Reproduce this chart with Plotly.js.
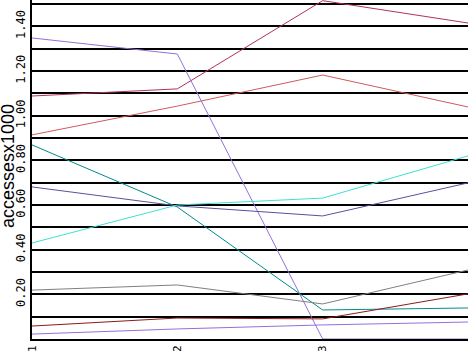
<!DOCTYPE html>
<html>
<head>
<meta charset="utf-8">
<script src="https://cdn.plot.ly/plotly-3.0.1.min.js"></script>
<style>html,body{margin:0;padding:0;background:#fff;}#chart{width:468px;height:351px;}</style>
</head>
<body>
<div id="chart"></div>
<script>
var xCats = [1, 2, 3, 4];
var xTickLabels = ['1', '2', '3'];
var yTickVals = [0.2, 0.4, 0.6, 0.8, 1.0, 1.2, 1.4];
var yTickText = ['0.20', '0.40', '0.60', '0.80', '1.00', '1.20', '1.40'];
var yTitle = 'accessesx1000';

var crimsonSeries = [1.088, 1.12, 1.515, 1.415];
var lightRedSeries = [0.914, 1.043, 1.182, 1.039];
var purpleTopSeries = [1.348, 1.276, 0.0, 0.0];
var tealSeries = [0.869, 0.591, 0.130, 0.139];
var slateSeries = [0.681, 0.596, 0.551, 0.699];
var turquoiseSeries = [0.430, 0.600, 0.631, 0.820];
var graySeries = [0.219, 0.242, 0.157, 0.309];
var darkRedSeries = [0.058, 0.094, 0.090, 0.202];
var purpleLowSeries = [0.022, 0.045, 0.063, 0.076];

var seriesList = [
  [crimsonSeries, '#b03060'],
  [lightRedSeries, '#d05a5a'],
  [purpleTopSeries, '#9370db'],
  [tealSeries, '#008b8b'],
  [slateSeries, '#5c4e9c'],
  [turquoiseSeries, '#40e0d0'],
  [graySeries, '#808080'],
  [darkRedSeries, '#8b1a1a'],
  [purpleLowSeries, '#9370db']
];

var traces = seriesList.map(function (s) {
  return {
    x: xCats, y: s[0], type: 'scatter', mode: 'lines',
    line: {color: s[1], width: 1}, hoverinfo: 'none', showlegend: false, cliponaxis: true
  };
});

var layout = {
  width: 468, height: 351,
  margin: {l: 32, r: 0, t: 0, b: 12, pad: 0},
  paper_bgcolor: '#ffffff', plot_bgcolor: '#ffffff',
  showlegend: false,
  font: {family: 'DejaVu Sans Mono, monospace', size: 11, color: '#000'},
  xaxis: {
    range: [1, 4], tickmode: 'array', tickvals: [1, 2, 3], ticktext: xTickLabels,
    tickangle: -90, showgrid: false, zeroline: false, showline: true,
    linecolor: '#000', linewidth: 2, ticks: '', ticklen: 0,
    tickfont: {family: 'DejaVu Sans Mono, monospace', size: 11, color: '#000'},
    automargin: false, fixedrange: true
  },
  yaxis: {
    range: [0, 1.518], tickmode: 'array', tickvals: yTickVals, ticktext: yTickText,
    tickangle: -90, showgrid: true, gridcolor: '#000', gridwidth: 2,
    minor: {dtick: 0.1, tick0: 0, showgrid: true, gridcolor: '#000', gridwidth: 2, ticks: ''},
    zeroline: false, showline: true, linecolor: '#000', linewidth: 2, ticks: '',
    tickfont: {family: 'DejaVu Sans Mono, monospace', size: 12, color: '#000'},
    automargin: false, fixedrange: true
  },
  annotations: [{
    text: yTitle, xref: 'paper', yref: 'paper', x: -24 / 436, y: 0.51,
    xanchor: 'center', yanchor: 'middle', textangle: -90, showarrow: false,
    borderpad: 0, font: {family: 'Liberation Sans, Arial, sans-serif', size: 18, color: '#000'}
  }]
};

Plotly.newPlot('chart', traces, layout, {staticPlot: true, displayModeBar: false});
</script>
</body>
</html>
